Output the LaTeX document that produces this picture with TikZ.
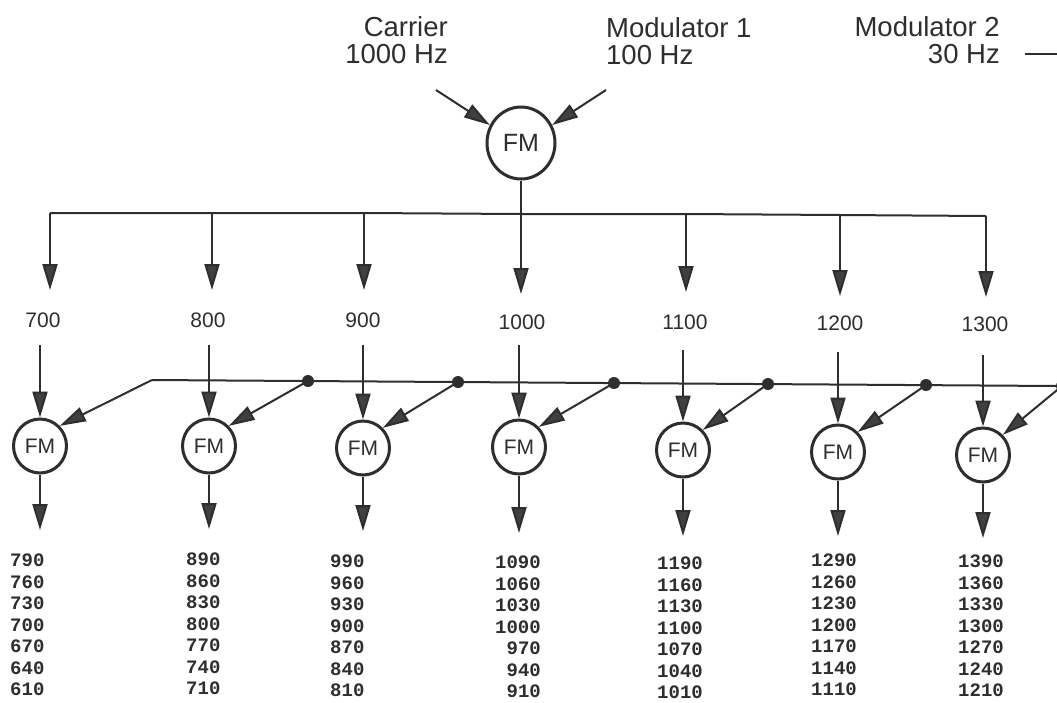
\documentclass[tikz,border=0pt]{standalone}
\usepackage{fontspec}
\setmainfont{Liberation Sans}
\newfontfamily\numfont{Liberation Mono}
\usetikzlibrary{arrows.meta,shapes.geometric}
\definecolor{ink}{HTML}{2E2E2E}
\definecolor{tipc}{HTML}{404040}
\begin{document}
\begin{tikzpicture}[x=1pt,y=-1pt,
  wire/.style={draw=ink, line width=2pt},
  arr/.style={wire, -{Triangle[length=26pt,width=15pt,fill=tipc]}},
  fmbig/.style={ellipse, draw=ink, line width=3pt, minimum width=68pt, minimum height=72pt, inner sep=0pt, text=ink, font=\fontsize{25}{25}\selectfont},
  fmsmall/.style={ellipse, draw=ink, line width=3pt, minimum width=53pt, minimum height=54pt, inner sep=0pt, text=ink, font=\fontsize{21}{21}\selectfont},
  toplbl/.style={inner sep=0pt, text=ink, font=\fontsize{27.5}{27.5}\selectfont},
  frq/.style={inner sep=0pt, anchor=base, text=ink, font=\fontsize{21}{21}\selectfont},
  nums/.style={inner sep=0pt, text=ink, font=\numfont\bfseries\fontsize{19}{21.5}\selectfont},
  busdot/.style={circle, fill=ink, inner sep=0pt, minimum size=12pt}
]
\useasboundingbox (0,0) rectangle (1057,702);
\fill[white] (0,0) rectangle (1057,702);

% top labels
\node[toplbl, anchor=base east] (car1) at (448,36) {Carrier};
\node[toplbl, anchor=base east] (car2) at (448,63) {1000 Hz};
\node[toplbl, anchor=base west] (mo1a) at (606,37) {Modulator 1};
\node[toplbl, anchor=base west] (mo1b) at (606,64) {100 Hz};
\node[toplbl, anchor=base east] (mo2a) at (1000,36) {Modulator 2};
\node[toplbl, anchor=base east] (mo2b) at (1000,63) {30 Hz};
\coordinate (d1) at (1025,54);
\coordinate (d2) at (1057,54);
\draw[wire] (d1) -- (d2);

% top FM
\node[fmbig] (fm0) at (521,143) {FM};
\coordinate (ca) at (436,90);
\coordinate (ma) at (606,90);
\draw[arr] (ca) -- (fm0.150);
\draw[arr] (ma) -- (fm0.30);

% distribution bus
\coordinate (b1) at (50,213);
\coordinate (b2) at (212,213);
\coordinate (b3) at (364,213);
\coordinate (b4) at (521,214);
\coordinate (b5) at (686,214);
\coordinate (b6) at (840,215);
\coordinate (b7) at (986,216);
\draw[wire] (b1) -- (b2) -- (b3) -- (b4) -- (b5) -- (b6) -- (b7);
\draw[wire] (fm0.south) -- (b4);
\coordinate (t1) at (50,290);
\coordinate (t2) at (212,290);
\coordinate (t3) at (364,290);
\coordinate (t4) at (521,294);
\coordinate (t5) at (686,292);
\coordinate (t6) at (840,296);
\coordinate (t7) at (986,297);
\foreach \i in {1,...,7} \draw[arr] (b\i) -- (t\i);

% frequency labels
\node[frq] (f1) at (43,327) {700};
\node[frq] (f2) at (208,327) {800};
\node[frq] (f3) at (363,327) {900};
\node[frq] (f4) at (522,329) {1000};
\node[frq] (f5) at (685,329) {1100};
\node[frq] (f6) at (840,330) {1200};
\node[frq] (f7) at (985,331) {1300};

% second stage FMs
\node[fmsmall] (g1) at (40,446) {FM};
\node[fmsmall] (g2) at (209,446) {FM};
\node[fmsmall] (g3) at (363,448) {FM};
\node[fmsmall] (g4) at (519,447) {FM};
\node[fmsmall] (g5) at (683,450) {FM};
\node[fmsmall] (g6) at (838,452) {FM};
\node[fmsmall] (g7) at (983,455) {FM};
\coordinate (s1) at (40,345);
\coordinate (s2) at (209,345);
\coordinate (s3) at (363,345);
\coordinate (s4) at (519,345);
\coordinate (s5) at (683,350);
\coordinate (s6) at (838,352);
\coordinate (s7) at (983,355);
\foreach \i in {1,...,7} \draw[arr] (s\i) -- (g\i.north);

% modulator 2 bus
\coordinate (m0) at (152,380);
\coordinate (mend) at (1057,386);
\draw[wire] (m0) -- (mend);
\node[busdot] (k2) at (308,381) {};
\node[busdot] (k3) at (458,382) {};
\node[busdot] (k4) at (614,383) {};
\node[busdot] (k5) at (768,384) {};
\node[busdot] (k6) at (926,385) {};
\node[busdot] (k7) at (1062,386) {};
\draw[arr] (m0) -- (g1.north east);
\foreach \i in {2,...,7} \draw[arr] (k\i.center) -- (g\i.north east);

% outputs
\coordinate (o1) at (40,530);
\coordinate (o2) at (209,529);
\coordinate (o3) at (363,531);
\coordinate (o4) at (519,533);
\coordinate (o5) at (683,536);
\coordinate (o6) at (838,536);
\coordinate (o7) at (983,538);
\foreach \i in {1,...,7} \draw[arr] (g\i.south) -- (o\i);

% resulting frequencies
\node[nums, align=left, anchor=north west] (n1) at (10,554) {790\\760\\730\\700\\670\\640\\610};
\node[nums, align=left, anchor=north west] (n2) at (186,553) {890\\860\\830\\800\\770\\740\\710};
\node[nums, align=left, anchor=north west] (n3) at (330,555) {990\\960\\930\\900\\870\\840\\810};
\node[nums, align=right, anchor=north east] (n4) at (541,556) {1090\\1060\\1030\\1000\\970\\940\\910};
\node[nums, align=left, anchor=north west] (n5) at (657,557) {1190\\1160\\1130\\1100\\1070\\1040\\1010};
\node[nums, align=left, anchor=north west] (n6) at (811,554) {1290\\1260\\1230\\1200\\1170\\1140\\1110};
\node[nums, align=left, anchor=north west] (n7) at (958,555) {1390\\1360\\1330\\1300\\1270\\1240\\1210};
\end{tikzpicture}
\end{document}
